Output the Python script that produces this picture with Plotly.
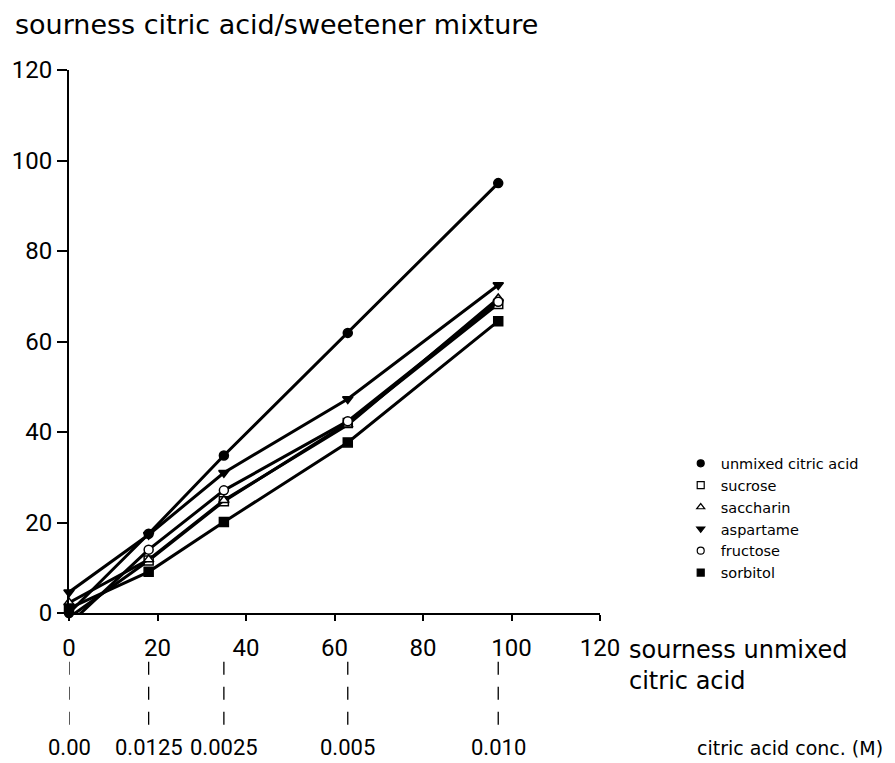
import plotly.graph_objects as go

# sourness of unmixed citric acid (x positions of the five concentrations)
x_sour = [0, 18, 35, 63, 97]
conc_labels = ["0.00", "0.0125", "0.0025", "0.005", "0.010"]
tick_vals = [0, 20, 40, 60, 80, 100, 120]

unmixed = [0, 17.5, 34.8, 61.9, 95]
sucrose = [-1, 11.6, 24.7, 42, 68.3]
saccharin = [2.3, 11.8, 24.9, 41.6, 69.5]
aspartame = [4.6, 17.3, 31, 47.3, 72.5]
fructose = [-2.5, 14, 27.1, 42.4, 68.8]
sorbitol = [1, 9.1, 20.1, 37.7, 64.5]

series = [
    ("unmixed citric acid", unmixed, "circle", "black"),
    ("sucrose", sucrose, "square", "white"),
    ("saccharin", saccharin, "triangle-up", "white"),
    ("aspartame", aspartame, "triangle-down", "black"),
    ("fructose", fructose, "circle", "white"),
    ("sorbitol", sorbitol, "square", "black"),
]

TXT = "DejaVu Sans, sans-serif"
NUM = "Roboto, DejaVu Sans, sans-serif"

fig = go.Figure()
for name, vals, sym, fill in series:
    fig.add_trace(go.Scatter(
        x=x_sour, y=vals, mode="lines+markers", name=name, showlegend=False,
        line=dict(color="black", width=3),
        marker=dict(symbol=sym, size=9, color=fill, line=dict(color="black", width=1.5)),
        cliponaxis=False, legendgroup=name,
    ))
for name, vals, sym, fill in series:
    fig.add_trace(go.Scatter(
        x=[None], y=[None], mode="markers", name=name, showlegend=True,
        marker=dict(symbol=sym, size=7, color=fill, line=dict(color="black", width=1.2)),
        legendgroup=name,
    ))

# dashed connectors and concentration labels
for xv, lab in zip(x_sour, conc_labels):
    fig.add_shape(type="line", xref="x", yref="paper", x0=xv, x1=xv, y0=-0.090, y1=-0.212,
                  line=dict(color="black", width=1.3, dash="13px,12px"))
    fig.add_annotation(x=xv, xref="x", y=-0.2486, yref="paper", text=lab, showarrow=False,
                       font=dict(size=22, family=NUM, color="black"), yanchor="middle")

fig.add_annotation(x=-0.105, xref="paper", xanchor="left", y=1.084, yref="paper",
                   yanchor="middle", text="sourness citric acid/sweetener mixture",
                   showarrow=False, font=dict(size=27, family=TXT))
fig.add_annotation(x=1.05, xref="paper", xanchor="left", y=-0.0958, yref="paper",
                   yanchor="middle", text="sourness unmixed<br>citric acid", showarrow=False,
                   align="left", font=dict(size=24, family=TXT))
fig.add_annotation(x=1.178, xref="paper", xanchor="left", y=-0.2486, yref="paper",
                   yanchor="middle", text="citric acid conc. (M)", showarrow=False,
                   font=dict(size=19, family=TXT))

fig.update_layout(
    width=895, height=763,
    margin=dict(l=67, r=295, t=70, b=150),
    paper_bgcolor="white", plot_bgcolor="white",
    font=dict(family=NUM, color="black", size=24),
    showlegend=True,
    legend=dict(x=1.152, y=0.305, xanchor="left", yanchor="top", bgcolor="rgba(0,0,0,0)",
                font=dict(size=14.5, family=TXT), tracegroupgap=0, itemwidth=30),
    xaxis=dict(range=[0, 120], tickvals=tick_vals, showgrid=False,
               zeroline=False, showline=True, linecolor="black", linewidth=2,
               ticks="outside", ticklen=6, tickcolor="black", tickwidth=1.5,
               ticklabelstandoff=6, tickfont=dict(size=24, family=NUM)),
    yaxis=dict(range=[0, 120], tickvals=tick_vals, showgrid=False,
               zeroline=False, showline=True, linecolor="black", linewidth=2,
               ticks="outside", ticklen=10, tickcolor="black", tickwidth=1.5,
               tickfont=dict(size=24, family=NUM)),
)

fig.write_html("out.html")
